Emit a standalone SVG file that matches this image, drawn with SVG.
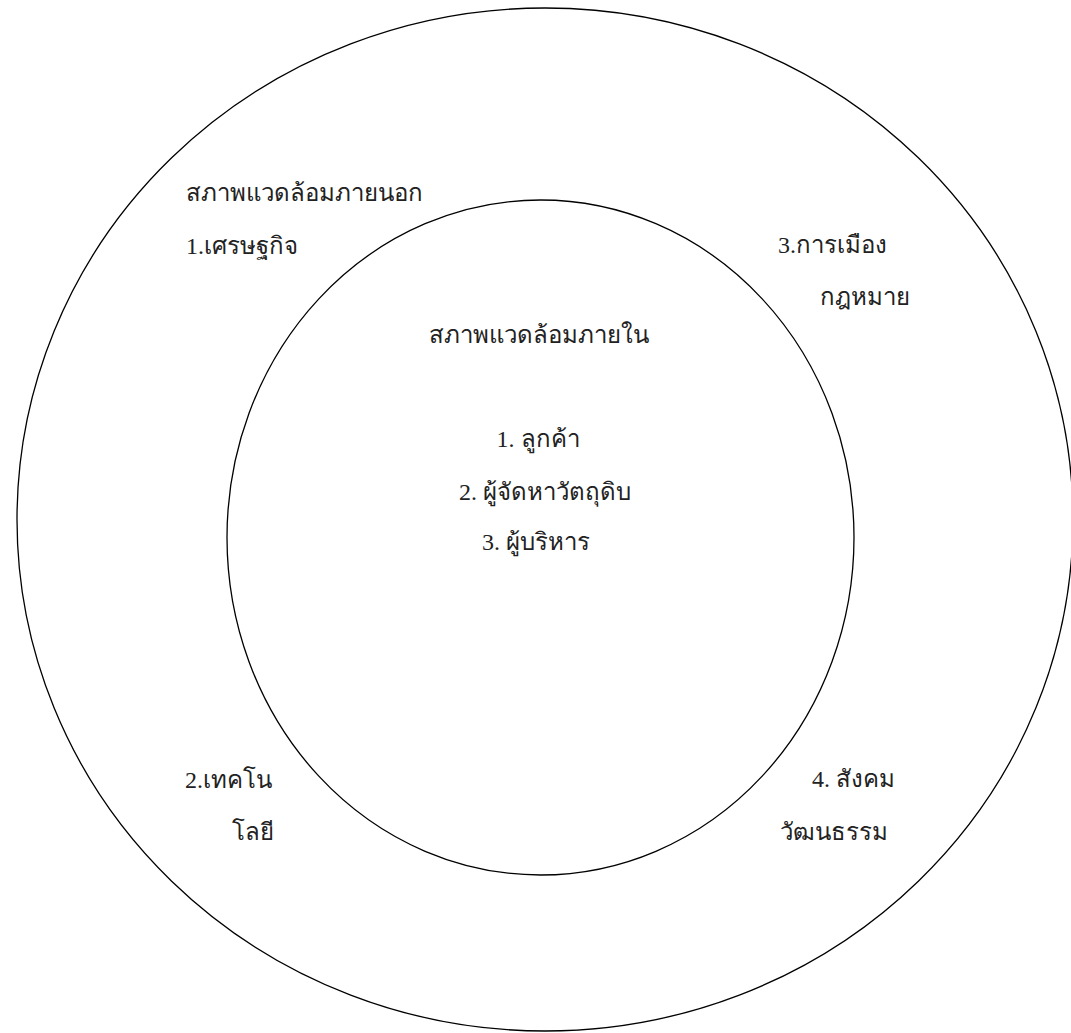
<svg xmlns="http://www.w3.org/2000/svg" width="1071" height="1033" viewBox="0 0 1071 1033">
<style>
.ring{fill:none;stroke:#000;stroke-width:1.3}
.t{font-family:"Liberation Serif","DejaVu Serif",serif;font-size:24px;fill:#222}
.c{text-anchor:middle}
</style>
<rect width="1071" height="1033" fill="#fff"/>
<g id="outer">
<ellipse class="ring" cx="545" cy="519.5" rx="528" ry="511.5"/>
<text class="t" x="186" y="201">สภาพแวดล้อมภายนอก</text>
<text class="t" x="186" y="254">1.เศรษฐกิจ</text>
<text class="t" x="778" y="253">3.การเมือง</text>
<text class="t" x="820" y="305">กฎหมาย</text>
<text class="t" x="185" y="788">2.เทคโน</text>
<text class="t" x="232" y="840">โลยี</text>
<text class="t" x="812" y="787">4. สังคม</text>
<text class="t" x="780" y="840">วัฒนธรรม</text>
</g>
<g id="inner">
<ellipse class="ring" cx="540.5" cy="537.5" rx="313.5" ry="337.5"/>
<text class="t c" x="539" y="343">สภาพแวดล้อมภายใน</text>
<text class="t c" x="538" y="447">1. ลูกค้า</text>
<text class="t c" x="545" y="500">2. ผู้จัดหาวัตถุดิบ</text>
<text class="t c" x="536" y="550">3. ผู้บริหาร</text>
</g>
<g id="connectors"/>
</svg>
